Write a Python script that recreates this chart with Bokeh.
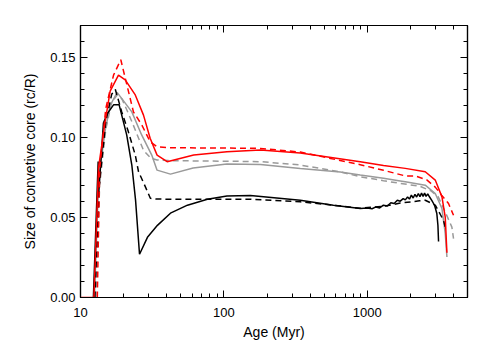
from bokeh.plotting import figure
from bokeh.models import (Range1d, LogAxis, LinearAxis, SingleIntervalTicker, LogTicker,
                          PrintfTickFormatter)
from bokeh.embed import file_html
from bokeh.resources import INLINE

# ---------------- data (age in Myr, size of convective core r_c/R) ----------------
age_red_solid = [10, 12.4, 13.35, 14.86, 16.1, 18.4, 20.5, 24.1, 27.5, 30.6, 34.2, 40.2, 61.6, 105, 180,
                 341, 893, 1298, 1841, 2537, 2979, 3317, 3497, 3593]
size_red_solid = [0.0, 0.0, 0.081, 0.110, 0.129, 0.139, 0.136, 0.1266, 0.114, 0.0995, 0.089, 0.0849, 0.089,
                  0.0911, 0.0922, 0.0903, 0.0848, 0.0825, 0.0807, 0.0786, 0.0734, 0.0629, 0.0503, 0.0280]

age_red_dash = [13.1, 13.6, 15.0, 17.0, 19.1, 23.4, 26.7, 30.6, 34.2, 42.4, 105, 180, 341, 893, 1298,
                1841, 2160, 2600, 2979, 3300, 3687, 3995]
size_red_dash = [0.0, 0.080, 0.118, 0.139, 0.1486, 0.116, 0.108, 0.0974, 0.0942, 0.0936, 0.0934, 0.0932,
                 0.0909, 0.0830, 0.0795, 0.0760, 0.0760, 0.0735, 0.0690, 0.0640, 0.0587, 0.0514]

age_gray_solid = [12.5, 13.4, 14.9, 16.1, 18.0, 22.8, 26.7, 31.4, 34.2, 42.4, 61, 105, 180, 341, 648, 893,
                  1298, 1698, 1841, 2537, 2979, 3317, 3497, 3593]
size_gray_solid = [0.0, 0.075, 0.105, 0.120, 0.1282, 0.116, 0.1016, 0.089, 0.0796, 0.0771, 0.0809, 0.0834,
                   0.0832, 0.0807, 0.0785, 0.0765, 0.0745, 0.0728, 0.0723, 0.0702, 0.0650, 0.0556, 0.0400, 0.0253]

age_gray_dash = [12.8, 13.6, 15.0, 16.5, 18.0, 19.5, 22.8, 27.5, 31, 34.2, 42.4, 100, 180, 341, 648, 893,
                 1298, 1698, 2313, 2800, 3125, 3497, 3891, 3995]
size_gray_dash = [0.0, 0.070, 0.105, 0.122, 0.1265, 0.124, 0.110, 0.092, 0.087, 0.086, 0.0855, 0.0852,
                  0.0849, 0.0828, 0.0785, 0.0755, 0.0730, 0.0713, 0.0696, 0.0665, 0.0629, 0.0535, 0.0440, 0.0368]

age_black_solid = [12.3, 13.28, 13.4, 14.45, 15.4, 17.0, 18.6, 21.0, 22.8, 24.2, 25.8, 29.3, 34.4, 42.4,
                   55.7, 76.7, 105, 153, 341, 580, 893, 1000, 1080, 1150, 1220, 1296, 1380, 1460, 1540,
                   1620, 1698, 1780, 1841, 1910, 1970, 2030, 2090, 2150, 2210, 2270, 2330, 2390, 2450,
                   2510, 2570, 2640, 2720, 2824, 2950, 3055, 3110, 3141]
size_black_solid = [0.0, 0.085, 0.065, 0.109, 0.115, 0.1204, 0.1204, 0.1016, 0.0828, 0.061, 0.027, 0.0376,
                    0.0451, 0.0527, 0.0577, 0.0614, 0.0635, 0.0638, 0.0608, 0.0577, 0.0556, 0.0560, 0.0555,
                    0.0566, 0.0560, 0.0577, 0.0572, 0.0592, 0.0588, 0.0608, 0.0602, 0.0618, 0.0610, 0.0628,
                    0.0615, 0.0640, 0.0622, 0.0645, 0.0628, 0.0650, 0.0630, 0.0652, 0.0632, 0.0652, 0.0632,
                    0.0648, 0.0628, 0.0605, 0.0575, 0.0525, 0.0450, 0.0350]

age_black_dash = [12.6, 13.5, 15.0, 16.5, 17.5, 19.4, 21.5, 24.1, 25.4, 28.4, 30.7, 34, 77, 153, 341, 580,
                  893, 1296, 1698, 2313, 2537, 2979, 3400, 3497]
size_black_dash = [0.0, 0.070, 0.110, 0.127, 0.130, 0.116, 0.104, 0.089, 0.0786, 0.069, 0.062, 0.0615,
                   0.0614, 0.0614, 0.0598, 0.0577, 0.0558, 0.0570, 0.0590, 0.0604, 0.0608, 0.0577, 0.0483, 0.0440]

FONT = "Liberation Sans"

p = figure(width=491, height=350, x_axis_type="log",
           x_range=Range1d(10, 5000), y_range=Range1d(0, 0.17),
           output_backend="svg", toolbar_location=None,
           min_border_left=80, min_border_right=24, min_border_top=25, min_border_bottom=53)
p.background_fill_color = "white"
p.border_fill_color = "white"
p.outline_line_color = "black"
p.outline_line_width = 1.2
p.xgrid.visible = False
p.ygrid.visible = False

# curves
p.line(age_gray_solid, size_gray_solid, line_color="#9a9a9a", line_width=1.5)
p.line(age_gray_dash, size_gray_dash, line_color="#9a9a9a", line_width=1.5, line_dash="6 4")
p.line(age_black_solid, size_black_solid, line_color="black", line_width=1.5)
p.line(age_black_dash, size_black_dash, line_color="black", line_width=1.5, line_dash="6 4")
p.line(age_red_solid, size_red_solid, line_color="red", line_width=1.5)
p.line(age_red_dash, size_red_dash, line_color="red", line_width=1.5, line_dash="6 4")


def style_axis(ax, show_labels=True):
    ax.axis_line_color = "black"
    ax.axis_line_width = 1.2
    ax.major_tick_line_color = "black"
    ax.minor_tick_line_color = "black"
    ax.major_tick_in = 7
    ax.major_tick_out = 0
    ax.minor_tick_in = 4
    ax.minor_tick_out = 0
    ax.major_label_text_font = FONT
    ax.major_label_text_color = "black"
    ax.axis_label_text_font = FONT
    ax.axis_label_text_font_style = "normal"
    ax.axis_label_text_color = "black"
    if not show_labels:
        ax.major_label_text_font_size = "1px"
        ax.major_label_text_alpha = 0
        ax.major_label_standoff = 0


xa = p.xaxis[0]
xa.ticker = LogTicker(desired_num_ticks=3, num_minor_ticks=10)
xa.formatter = PrintfTickFormatter(format="%d")
style_axis(xa)
xa.major_label_text_font_size = "13px"
xa.major_label_standoff = 10
xa.axis_label = "Age (Myr)"
xa.axis_label_text_font_size = "14px"
xa.axis_label_standoff = 4

ya = p.yaxis[0]
ya.ticker = SingleIntervalTicker(interval=0.05, num_minor_ticks=5)
ya.formatter = PrintfTickFormatter(format="%.2f")
style_axis(ya)
ya.major_label_text_font_size = "13px"
ya.major_label_standoff = 5
ya.axis_label = "Size of convetive core (rc/R)"
ya.axis_label_text_font_size = "14px"
ya.axis_label_standoff = 9

top = LogAxis(ticker=LogTicker(desired_num_ticks=3, num_minor_ticks=10))
style_axis(top, show_labels=False)
p.add_layout(top, "above")

right = LinearAxis(ticker=SingleIntervalTicker(interval=0.05, num_minor_ticks=5))
style_axis(right, show_labels=False)
p.add_layout(right, "right")

open("out.html", "w").write(file_html(p, INLINE))
